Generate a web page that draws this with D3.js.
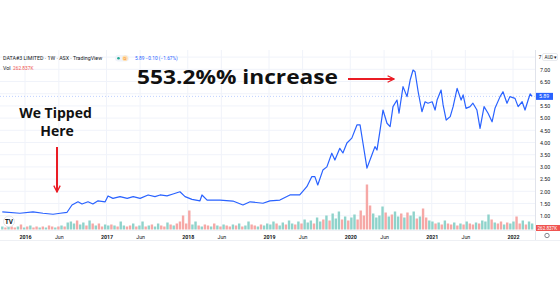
<!DOCTYPE html>
<html>
<head>
<meta charset="utf-8">
<script src="https://cdn.jsdelivr.net/npm/d3@7"></script>
<style>
  body { margin: 0; background: #fff; }
  svg { display: block; font-family: "Open Sans", Roboto, sans-serif; }
</style>
</head>
<body>
<div id="chart"></div>
<script>
// weekly close, DATA#3 LIMITED
var priceDates = ["2015-09-21","2015-12-09","2016-02-06","2016-03-22","2016-05-06","2016-06-07","2016-07-08","2016-07-30","2016-08-26","2016-09-13","2016-10-10","2016-11-01","2016-11-24","2016-12-26","2017-01-08","2017-01-30","2017-03-03","2017-04-04","2017-05-01","2017-06-01","2017-07-07","2017-08-07","2017-08-30","2017-09-30","2017-10-27","2017-11-27","2017-12-20","2018-01-20","2018-02-25","2018-03-06","2018-03-29","2018-05-26","2018-07-23","2018-09-06","2018-10-08","2018-12-05","2019-01-05","2019-02-19","2019-04-05","2019-05-19","2019-06-20","2019-07-12","2019-07-26","2019-08-08","2019-08-31","2019-09-18","2019-10-10","2019-10-24","2019-11-15","2019-11-29","2019-12-17","2020-01-08","2020-01-31","2020-02-14","2020-02-27","2020-03-16","2020-04-07","2020-04-21","2020-04-30","2020-05-14","2020-05-27","2020-06-14","2020-06-28","2020-07-11","2020-07-29","2020-08-07","2020-08-25","2020-09-12","2020-09-26","2020-10-09","2020-10-18","2020-11-01","2020-11-18","2020-12-02","2020-12-15","2021-01-03","2021-01-16","2021-01-25","2021-02-12","2021-02-21","2021-03-07","2021-03-25","2021-04-07","2021-04-25","2021-05-13","2021-05-22","2021-06-04","2021-06-22","2021-07-05","2021-07-23","2021-08-06","2021-08-24","2021-09-11","2021-09-29","2021-10-12","2021-11-04","2021-11-17","2021-12-05","2021-12-18","2022-01-10","2022-01-24","2022-02-11","2022-02-24","2022-03-10","2022-03-19","2022-03-28"];
var priceClose = [1.16,1.10,1.16,1.10,1.06,1.10,1.14,1.44,1.57,1.48,1.57,1.48,1.61,1.57,1.81,1.71,1.78,1.71,1.78,1.71,1.85,1.78,1.85,1.81,1.89,1.98,1.78,1.67,1.61,1.85,1.64,1.64,1.60,1.44,1.57,1.51,1.61,1.64,1.85,1.85,2.19,2.60,2.60,2.26,2.87,3.00,3.56,3.28,3.76,3.57,3.98,4.18,4.72,4.72,3.98,2.95,3.49,3.83,3.69,4.51,5.33,4.79,4.65,5.47,5.74,5.20,6.29,5.88,6.56,6.97,6.90,6.08,5.26,5.67,5.61,5.67,5.33,5.74,6.15,5.54,4.92,5.06,5.47,6.22,5.74,5.95,5.40,5.47,5.61,5.33,4.58,5.47,5.20,4.85,5.40,5.88,6.08,5.61,5.88,5.81,5.47,5.67,5.33,5.74,5.99,5.89];

// fortnightly volume (thousands of shares), first bar 2015-09-21
var volStart = "2015-09-21";
var volumes = [150,100,200,150,100,150,250,100,
  150,200,100,150,100,150,100,200,150,100,150,200,150,
  350,400,300,450,250,350,200,450,300,200,300,150,250,
  200,250,200,150,400,200,150,200,300,150,200,400,150,
  200,250,150,300,200,150,350,250,200,300,400,700,300,
  950,250,400,200,150,250,200,150,300,200,150,250,200,
  150,250,200,300,150,200,400,250,200,150,250,200,300,
  250,400,300,200,350,250,450,300,250,400,300,500,350,
  450,300,600,400,500,700,450,800,550,900,500,650,450,
  600,750,500,950,700,2250,1200,800,600,700,1150,850,650,
  750,900,650,800,600,850,700,900,550,650,1050,600,450,
  400,300,350,250,450,300,250,350,200,300,250,400,300,
  250,350,300,450,400,750,500,350,300,400,250,350,300,
  400,650,300,450,250,400,300];
// 1 = up week (green), 0 = down week (red)
var volUp = [1,0,1,0,0,1,0,1,
  0,1,0,0,1,0,1,0,0,1,0,1,0,
  1,1,1,0,1,1,0,1,0,1,0,0,1,
  1,0,1,0,1,1,0,0,1,0,1,1,0,
  1,0,1,1,0,0,1,0,1,0,0,0,0,
  0,1,1,0,1,0,0,1,0,1,0,1,0,
  0,1,0,1,0,1,1,0,0,1,0,1,1,
  1,1,0,1,1,0,1,1,0,1,0,1,1,
  1,0,1,1,0,1,0,1,1,1,0,1,0,
  1,1,0,0,0,0,0,1,1,1,1,0,1,
  0,1,1,0,1,0,1,1,0,1,0,0,1,
  1,0,1,0,1,0,0,1,0,1,0,1,0,
  0,1,0,1,1,1,0,1,0,0,1,0,1,
  1,0,0,1,0,1,1];

var priceTicks = [1,1.5,2,2.5,3,3.5,4,4.5,5,5.5,6.5,7];
var lastPrice = 5.89;
var timeTicks = ["2016-01-01","2016-06-01","2017-01-01","2017-06-01","2018-01-01","2018-06-01","2019-01-01","2019-06-01","2020-01-01","2020-06-01","2021-01-01","2021-06-01","2022-01-01"];

var parse = d3.timeParse("%Y-%m-%d");
var data = priceDates.map(function(d, i) { return {date: parse(d), close: priceClose[i]}; });
var v0 = parse(volStart);
var vdata = volumes.map(function(v, i) { return {date: d3.timeDay.offset(v0, i * 14), vol: v, up: volUp[i]}; });

var W = 560, H = 293;
var plotL = 0, plotR = 535, plotT = 50, plotB = 230;

var xScale = d3.scaleTime().domain([parse("2016-01-01"), parse("2022-01-01")]).range([25, 513]);
var yScale = d3.scaleLinear().domain([1, 7]).range([215.7, 69.3]);
var vScale = d3.scaleLinear().domain([0, 2250]).range([229.5, 184.5]);

var svg = d3.select("#chart").append("svg").attr("width", W).attr("height", H);

svg.append("rect").attr("width", W).attr("height", H).attr("fill", "#fff");

// grid
var grid = svg.append("g");
grid.selectAll("line.h").data(d3.range(1, 8, 0.5)).enter().append("line")
    .attr("x1", plotL).attr("x2", plotR)
    .attr("y1", function(d) { return yScale(d); }).attr("y2", function(d) { return yScale(d); })
    .attr("stroke", "#f0f3fa").attr("stroke-width", 1);
grid.selectAll("line.v").data(timeTicks).enter().append("line")
    .attr("x1", function(d) { return xScale(parse(d)); }).attr("x2", function(d) { return xScale(parse(d)); })
    .attr("y1", plotT).attr("y2", plotB)
    .attr("stroke", "#f0f3fa").attr("stroke-width", 1);

// volume bars
svg.append("g").selectAll("rect").data(vdata).enter().append("rect")
    .attr("x", function(d) { return xScale(d.date) - 1.2; })
    .attr("y", function(d) { return vScale(d.vol); })
    .attr("width", 2.4)
    .attr("height", function(d) { return vScale(0) - vScale(d.vol); })
    .attr("fill", function(d) { return d.up ? "#8fd3cb" : "#f6a8a6"; });

// last price dotted line
svg.append("line")
    .attr("x1", plotL).attr("x2", plotR)
    .attr("y1", yScale(lastPrice)).attr("y2", yScale(lastPrice))
    .attr("stroke", "#2962ff").attr("stroke-opacity", 0.3)
    .attr("stroke-dasharray", "1,2").attr("stroke-width", 1);

// price line
var valueline = d3.line()
    .x(function(d) { return xScale(d.date); })
    .y(function(d) { return yScale(d.close); });
svg.append("path").datum(data)
    .attr("d", valueline)
    .attr("fill", "none")
    .attr("stroke", "#2962ff")
    .attr("stroke-width", 1.2)
    .attr("stroke-linejoin", "round");

// right price scale
svg.append("line").attr("x1", plotR + 0.5).attr("x2", plotR + 0.5).attr("y1", plotT).attr("y2", 240)
    .attr("stroke", "#e0e3eb");
svg.append("line").attr("x1", 0).attr("x2", W).attr("y1", plotB + 0.5).attr("y2", plotB + 0.5)
    .attr("stroke", "#eef0f4");
svg.append("line").attr("x1", 0).attr("x2", W).attr("y1", 240.5).attr("y2", 240.5)
    .attr("stroke", "#eef0f4");

var yAxis = svg.append("g")
    .attr("transform", "translate(" + (plotR + 5) + ",0)")
    .call(d3.axisRight(yScale).tickValues(priceTicks).tickFormat(d3.format(".2f")).tickSize(0));
yAxis.select(".domain").remove();
yAxis.selectAll("text").attr("font-size", 5.3).attr("fill", "#131722").attr("x", 0)
    .attr("font-family", "Roboto, sans-serif");

// 7.50 tick mostly hidden behind the AUD button
svg.append("text").attr("x", 538.5).attr("y", yScale(7.5) + 2).attr("font-size", 5.3)
    .attr("font-family", "Roboto, sans-serif").attr("fill", "#131722").text("7");
svg.append("rect").attr("x", 542.5).attr("y", 53.5).attr("width", 15).attr("height", 7).attr("rx", 1.5)
    .attr("fill", "#fff").attr("stroke", "#d1d4dc").attr("stroke-width", 0.5);
svg.append("text").attr("x", 544.5).attr("y", 59).attr("font-size", 4.5)
    .attr("font-family", "Roboto, sans-serif").attr("fill", "#131722").text("AUD ▾");

// last price label
svg.append("rect").attr("x", plotR + 1).attr("y", yScale(lastPrice) - 3.5).attr("width", 17).attr("height", 7)
    .attr("fill", "#2962ff");
svg.append("text").attr("x", plotR + 4).attr("y", yScale(lastPrice) + 1.9).attr("font-size", 5.3)
    .attr("font-family", "Roboto, sans-serif").attr("fill", "#fff").text(d3.format(".2f")(lastPrice));

// last volume label
svg.append("rect").attr("x", plotR + 1).attr("y", 225).attr("width", 24).attr("height", 6).attr("fill", "#ef5350");
svg.append("text").attr("x", plotR + 2.5).attr("y", 229.8).attr("font-size", 4.6)
    .attr("font-family", "Roboto, sans-serif").attr("fill", "#fff").text("262.837K");

// gear icon
svg.append("circle").attr("cx", 547).attr("cy", 235.5).attr("r", 2.2)
    .attr("fill", "none").attr("stroke", "#50535e").attr("stroke-width", 0.7);

// time axis
var xAxis = svg.append("g")
    .attr("transform", "translate(0," + (plotB + 2) + ")")
    .call(d3.axisBottom(xScale)
        .tickValues(timeTicks.map(parse))
        .tickSize(0)
        .tickFormat(function(d) { return d.getMonth() === 0 ? d3.timeFormat("%Y")(d) : "Jun"; }));
xAxis.select(".domain").remove();
xAxis.selectAll("text").attr("font-size", 5.3).attr("fill", "#131722")
    .attr("font-family", "Roboto, sans-serif")
    .attr("font-weight", function(d) { return d.getMonth() === 0 ? "bold" : "normal"; });

// TradingView logo
svg.append("circle").attr("cx", 9).attr("cy", 221.5).attr("r", 5.5).attr("fill", "#fff")
    .attr("stroke", "#d1d4dc").attr("stroke-width", 0.6);
svg.append("text").attr("x", 9).attr("y", 223.8).attr("text-anchor", "middle").attr("font-size", 6.5)
    .attr("font-weight", "bold").attr("fill", "#131722").text("TV");

// legend header
var hdr = svg.append("g").attr("font-family", "Roboto, sans-serif").attr("font-size", 5.3);
hdr.append("text").attr("x", 3).attr("y", 60).attr("fill", "#131722")
    .text("DATA#3 LIMITED · 1W · ASX · TradingView");
hdr.append("rect").attr("x", 115).attr("y", 55).attr("width", 14).attr("height", 6.5).attr("rx", 3.2).attr("fill", "#f0f3fa");
hdr.append("circle").attr("cx", 118.5).attr("cy", 58.2).attr("r", 1.3).attr("fill", "#22ab94");
hdr.append("circle").attr("cx", 125).attr("cy", 58.2).attr("r", 2.8).attr("fill", "#ffe0b2");
hdr.append("text").attr("x", 125).attr("y", 60).attr("text-anchor", "middle").attr("font-size", 4.3)
    .attr("fill", "#f57c00").text("D");
hdr.append("text").attr("x", 135).attr("y", 60).attr("fill", "#2962ff").attr("font-size", 4.8)
    .text("5.89  −0.10 (−1.67%)");
hdr.append("text").attr("x", 3).attr("y", 69.5).attr("fill", "#131722").text("Vol");
hdr.append("text").attr("x", 13).attr("y", 69.5).attr("fill", "#ef5350").attr("font-size", 4.8).text("262.837K");

// annotations
svg.append("defs").append("marker")
    .attr("id", "head").attr("viewBox", "0 0 10 10").attr("refX", 9).attr("refY", 5)
    .attr("markerWidth", 4).attr("markerHeight", 4).attr("orient", "auto")
    .append("path").attr("d", "M1,1 L9,5 L1,9").attr("fill", "none").attr("stroke", "#ea1c24").attr("stroke-width", 1.6);

svg.append("text").attr("x", 137).attr("y", 84).attr("font-size", 20).attr("font-weight", 700)
    .attr("fill", "#111").attr("textLength", 201).attr("lengthAdjust", "spacingAndGlyphs")
    .text("553.2%% increase");
svg.append("line").attr("x1", 348).attr("x2", 394).attr("y1", 79).attr("y2", 79)
    .attr("stroke", "#ea1c24").attr("stroke-width", 2).attr("marker-end", "url(#head)");

svg.append("text").attr("x", 55.5).attr("y", 118).attr("text-anchor", "middle").attr("font-size", 14)
    .attr("font-weight", 700).attr("fill", "#111").text("We Tipped");
svg.append("text").attr("x", 57).attr("y", 136).attr("text-anchor", "middle").attr("font-size", 14)
    .attr("font-weight", 700).attr("fill", "#111").text("Here");
svg.append("line").attr("x1", 57).attr("x2", 57).attr("y1", 147).attr("y2", 192)
    .attr("stroke", "#ea1c24").attr("stroke-width", 2).attr("marker-end", "url(#head)");
</script>
</body>
</html>
